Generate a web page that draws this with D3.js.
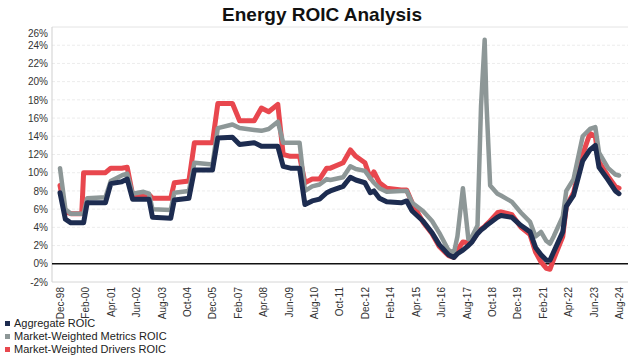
<!DOCTYPE html>
<html>
<head>
<meta charset="utf-8">
<script src="https://cdn.jsdelivr.net/npm/d3@7"></script>
<style>
  html, body { margin: 0; padding: 0; background: #fff; }
  svg { display: block; font-family: "Liberation Sans", Arial, sans-serif; }
</style>
</head>
<body>
<svg id="chart" width="630" height="360"></svg>
<script>
// ---- Data ----
const dates = ["1998-12","1999-03","1999-06","1999-12","2000-01","2000-03","2001-01","2001-04","2001-10","2002-01",
  "2002-04","2002-10","2003-01","2003-03","2004-01","2004-03","2004-11","2005-02","2005-12","2006-03",
  "2006-11","2007-03","2007-11","2008-03","2008-07","2008-12","2009-03","2009-07","2009-12","2010-03",
  "2010-07","2010-11","2011-03","2011-05","2011-12","2012-04","2012-07","2012-12","2013-03","2013-05",
  "2013-08","2013-12","2014-08","2014-11","2015-02","2015-08","2016-01","2016-05","2016-10","2017-01",
  "2017-03","2017-06","2017-09","2017-11","2018-02","2018-04","2018-06","2018-07","2018-09","2019-01",
  "2019-03","2019-09","2020-02","2020-07","2020-10","2021-01","2021-04","2021-06","2021-08","2022-01",
  "2022-03","2022-07","2022-12","2023-04","2023-07","2023-09","2024-02","2024-06","2024-08"];

const aggregateROIC = [7.8,4.9,4.5,4.5,4.5,6.7,6.7,8.8,9.0,9.3,
  7.1,7.1,7.1,5.1,5.0,7.0,7.2,10.3,10.3,13.8,
  13.9,13.1,13.3,12.9,12.9,12.9,10.7,10.5,10.5,6.5,
  6.9,7.1,7.8,8.0,8.5,9.5,9.2,8.9,7.8,8.0,
  7.2,6.8,6.7,6.9,5.8,4.7,3.4,2.1,1.0,0.7,
  1.1,1.5,2.0,2.4,3.3,3.7,4.0,4.2,4.5,5.1,
  5.3,5.1,4.2,3.5,1.8,1.0,0.4,0.4,1.3,3.5,
  6.3,7.5,11.3,12.5,13.0,10.6,9.2,8.0,7.7];

const metricsROIC = [10.5,6.0,5.5,5.5,5.5,7.2,7.3,9.1,9.7,9.9,
  7.7,7.9,7.7,6.0,5.9,7.8,8.0,11.1,10.9,14.9,
  15.3,14.9,14.7,14.6,14.8,15.6,13.3,13.3,13.3,8.0,
  8.5,8.7,9.3,9.2,9.5,10.7,10.4,10.2,9.4,8.9,
  8.3,7.9,8.0,8.0,6.7,5.8,4.7,3.4,1.5,1.2,
  3.0,8.3,2.7,3.0,4.2,17.3,24.6,17.7,8.6,7.7,
  7.5,6.8,5.6,4.6,3.0,3.5,2.5,2.2,3.0,5.2,
  8.0,9.3,14.0,14.8,15.0,12.2,10.5,9.8,9.7];

const driversROIC = [8.6,5.7,5.5,5.5,10.0,10.0,10.0,10.5,10.5,10.6,
  7.6,7.6,7.6,7.2,7.2,8.9,9.1,13.3,13.3,17.6,
  17.6,15.7,15.7,17.1,16.7,17.5,12.0,11.8,11.8,8.9,
  9.3,9.3,10.5,10.5,11.1,12.5,11.8,11.1,9.4,10.1,
  8.9,8.3,8.1,8.1,6.7,4.6,3.3,1.9,0.9,0.7,
  1.5,2.4,2.3,2.5,3.4,3.8,4.1,4.3,4.7,5.6,
  5.7,5.4,4.0,3.2,1.3,0.2,-0.5,-0.6,0.5,3.0,
  6.3,7.8,12.0,14.3,14.0,11.2,9.6,8.5,8.3];

const tickLabels = ["Dec-98","Feb-00","Apr-01","Jun-02","Aug-03","Oct-04","Dec-05","Feb-07","Apr-08","Jun-09",
  "Aug-10","Oct-11","Dec-12","Feb-14","Apr-15","Jun-16","Aug-17","Oct-18","Dec-19","Feb-21","Apr-22","Jun-23","Aug-24"];

const yTicks = [-2,0,2,4,6,8,10,12,14,16,18,20,22,24,26];

const seriesNames = ["Aggregate ROIC","Market-Weighted Metrics ROIC","Market-Weighted Drivers ROIC"];
const seriesColors = ["#1d2c50","#8d9797","#e8474e"];

// ---- Build ----
const svg = d3.select("#chart");
const parseM = d3.timeParse("%Y-%m");
const parseTick = d3.timeParse("%b-%y");
const dts = dates.map(parseM);
const tickDates = tickLabels.map(parseTick);

const plotLeft = 52, plotRight = 628, plotTop = 27, plotBottom = 282;

const x = d3.scaleTime()
  .domain([tickDates[0], tickDates[tickDates.length - 1]])
  .range([60, 619]);
const y = d3.scaleLinear().domain([-2, 26]).range([plotBottom, plotTop]);

// Title
svg.append("text")
  .attr("x", 322).attr("y", 21)
  .attr("text-anchor", "middle")
  .attr("font-size", 19).attr("font-weight", "bold")
  .attr("fill", "#111")
  .text("Energy ROIC Analysis");

// Gridlines
const grid = svg.append("g");
grid.selectAll("line").data(yTicks.filter(d => d !== 0 && d !== -2))
  .join("line")
  .attr("x1", plotLeft).attr("x2", plotRight)
  .attr("y1", d => y(d)).attr("y2", d => y(d))
  .attr("stroke", d => d === 26 ? "#e4e4e4" : "#ececec")
  .attr("stroke-width", 1)
  .attr("stroke-dasharray", d => d === 26 ? null : "3,2");

// Axis frame lines
svg.append("line").attr("x1", plotLeft).attr("x2", plotLeft)
  .attr("y1", plotTop).attr("y2", plotBottom)
  .attr("stroke", "#cfcfcf").attr("stroke-width", 1);
svg.append("line").attr("x1", plotLeft).attr("x2", plotRight)
  .attr("y1", plotBottom).attr("y2", plotBottom)
  .attr("stroke", "#d6d6d6").attr("stroke-width", 1);

// Y axis labels
const yAxis = d3.axisLeft(y).tickValues(yTicks).tickFormat(d => d + "%").tickSize(0).tickPadding(4);
const yg = svg.append("g").attr("transform", `translate(${plotLeft},0)`).call(yAxis);
yg.select(".domain").remove();
yg.selectAll("text").attr("font-size", 10).attr("fill", "#333")
  .attr("font-family", "'Liberation Sans', Arial, sans-serif")
  .attr("dy", d => d === 26 ? "0.9em" : "0.32em");

// X axis labels
const xAxis = d3.axisBottom(x).tickValues(tickDates)
  .tickFormat((d, i) => tickLabels[i]).tickSize(0).tickPadding(0);
const xg = svg.append("g").attr("transform", `translate(0,${plotBottom})`).call(xAxis);
xg.select(".domain").remove();
xg.selectAll("text")
  .attr("font-size", 10).attr("fill", "#333")
  .attr("font-family", "'Liberation Sans', Arial, sans-serif")
  .attr("text-anchor", "end")
  .attr("transform", "rotate(-90)")
  .attr("x", -5).attr("y", 0).attr("dy", "0.35em");

// Zero line
svg.append("line").attr("x1", plotLeft).attr("x2", plotRight)
  .attr("y1", y(0)).attr("y2", y(0))
  .attr("stroke", "#111").attr("stroke-width", 1.5);

// Lines (drivers bottom, metrics middle, aggregate top)
const seriesVals = [aggregateROIC, metricsROIC, driversROIC];
const line = d3.line().x((d, i) => x(dts[i])).y(d => y(d));
[2, 1, 0].forEach(k => {
  svg.append("path")
    .datum(seriesVals[k])
    .attr("fill", "none")
    .attr("stroke", seriesColors[k])
    .attr("stroke-width", k === 1 ? 4.5 : 5)
    .attr("stroke-linejoin", "round")
    .attr("stroke-linecap", "round")
    .attr("d", line);
});

// Legend
const lg = svg.append("g");
seriesNames.forEach((name, i) => {
  const yy = 326 + i * 13;
  lg.append("rect").attr("x", 5).attr("y", yy - 5).attr("width", 5).attr("height", 5)
    .attr("fill", seriesColors[i]);
  lg.append("text").attr("x", 14).attr("y", yy + 1)
    .attr("font-size", 11).attr("fill", "#222")
    .text(name);
});
</script>
</body>
</html>
